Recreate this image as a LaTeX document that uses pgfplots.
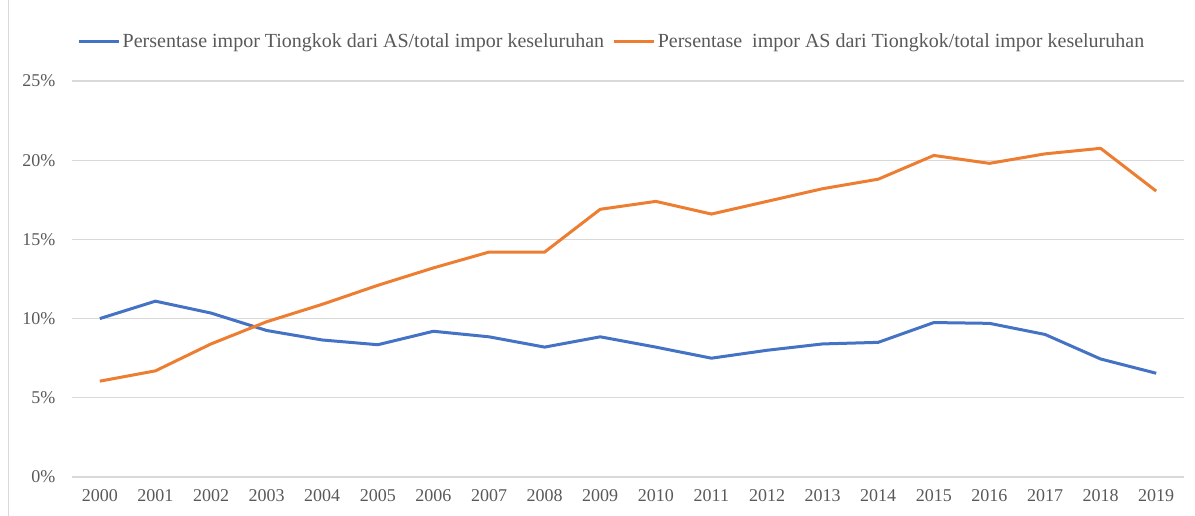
\documentclass[border=0pt]{standalone}
\usepackage{fontspec}
\setmainfont{Liberation Serif}
\usepackage{pgfplots}
\pgfplotsset{compat=1.18}
\definecolor{serBlue}{HTML}{4472C4}
\definecolor{serOrange}{HTML}{ED7D31}
\definecolor{gridGray}{HTML}{D9D9D9}
\definecolor{txtGray}{HTML}{595959}

\begin{document}
\begin{tikzpicture}
% page frame: 1195 x 516 px at 0.75pt per px, axis origin at px (72,477)
\useasboundingbox (-54pt,-29.25pt) rectangle (842.25pt,357.75pt);
\draw[gridGray] (-48pt,-29.25pt) -- (-48pt,357.75pt);
\begin{axis}[
  scale only axis,
  width=834pt, height=297pt,
  xmin=1999.5, xmax=2019.5,
  ymin=0, ymax=25,
  xtick=data,
  ytick={0,5,10,15,20,25},
  yticklabel={\pgfmathprintnumber{\tick}\%},
  /pgf/number format/assume math mode=true,
  xticklabel style={/pgf/number format/1000 sep={}, font=\fontsize{13.5}{15}\selectfont, text=txtGray, yshift=-6pt},
  yticklabel style={font=\fontsize{13.5}{15}\selectfont, text=txtGray, xshift=-9pt},
  xtick style={draw=none}, ytick style={draw=none},
  axis line style={draw=none},
  ymajorgrids=true,
  grid style={gridGray, line width=0.8pt},
  clip=false,
  legend columns=2,
  legend style={at={(0.4856,1.0985)}, anchor=center, draw=none, fill=none,
    font=\fontsize{15}{17}\selectfont, text=txtGray,
    /tikz/every even column/.append style={column sep=4pt}},
  legend image code/.code={\draw[#1, line width=2.25pt] (0pt,0pt) -- (30pt,0pt);},
]
\addplot[color=serBlue, line width=2.25pt, mark=none] coordinates {
  (2000,10.0) (2001,11.1) (2002,10.35) (2003,9.25) (2004,8.65)
  (2005,8.35) (2006,9.2) (2007,8.85) (2008,8.2) (2009,8.85)
  (2010,8.2) (2011,7.5) (2012,8.0) (2013,8.4) (2014,8.5)
  (2015,9.75) (2016,9.7) (2017,9.0) (2018,7.45) (2019,6.55)
};
\addlegendentry{Persentase impor Tiongkok dari AS/total impor keseluruhan}
\addplot[color=serOrange, line width=2.25pt, mark=none] coordinates {
  (2000,6.05) (2001,6.7) (2002,8.4) (2003,9.8) (2004,10.9)
  (2005,12.1) (2006,13.2) (2007,14.2) (2008,14.2) (2009,16.9)
  (2010,17.4) (2011,16.6) (2012,17.4) (2013,18.2) (2014,18.8)
  (2015,20.3) (2016,19.8) (2017,20.4) (2018,20.75) (2019,18.05)
};
\addlegendentry{Persentase\ \ impor AS dari Tiongkok/total impor keseluruhan}
\end{axis}
\end{tikzpicture}
\end{document}
